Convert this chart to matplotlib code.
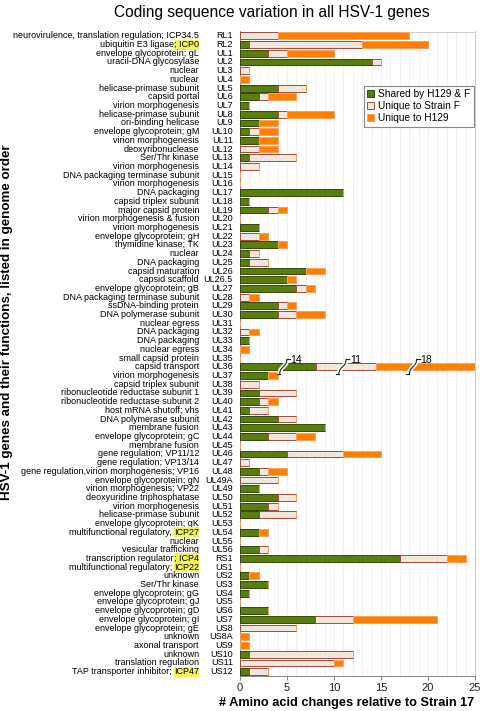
import matplotlib
matplotlib.use("Agg")
import matplotlib.pyplot as plt
import matplotlib.transforms as mtransforms
from matplotlib.patches import Patch
import numpy as np

plt.rcParams['font.family'] = ['Liberation Sans', 'DejaVu Sans']

genes = ['RL1', 'RL2', 'UL1', 'UL2', 'UL3', 'UL4', 'UL5', 'UL6', 'UL7', 'UL8',
         'UL9', 'UL10', 'UL11', 'UL12', 'UL13', 'UL14', 'UL15', 'UL16', 'UL17', 'UL18',
         'UL19', 'UL20', 'UL21', 'UL22', 'UL23', 'UL24', 'UL25', 'UL26', 'UL26.5', 'UL27',
         'UL28', 'UL29', 'UL30', 'UL31', 'UL32', 'UL33', 'UL34', 'UL35', 'UL36', 'UL37',
         'UL38', 'UL39', 'UL40', 'UL41', 'UL42', 'UL43', 'UL44', 'UL45', 'UL46', 'UL47',
         'UL48', 'UL49A', 'UL49', 'UL50', 'UL51', 'UL52', 'UL53', 'UL54', 'UL55', 'UL56',
         'RS1', 'US1', 'US2', 'US3', 'US4', 'US5', 'US6', 'US7', 'US8', 'US8A',
         'US9', 'US10', 'US11', 'US12']

functions = ['neurovirulence, translation regulation; ICP34.5', 'ubiquitin E3 ligase; ICP0',
             'envelope glycoprotein; gL', 'uracil-DNA glycosylase', 'nuclear', 'nuclear',
             'helicase-primase subunit', 'capsid portal', 'virion morphogenesis',
             'helicase-primase subunit', 'ori-binding helicase', 'envelope glycoprotein; gM',
             'virion morphogenesis', 'deoxyribonuclease', 'Ser/Thr kinase', 'virion morphogenesis',
             'DNA packaging terminase subunit', 'virion morphogenesis', 'DNA packaging',
             'capsid triplex subunit', 'major capsid protein', 'virion morphogenesis & fusion',
             'virion morphogenesis', 'envelope glycoprotein; gH', 'thymidine kinase; TK',
             'nuclear', 'DNA packaging', 'capsid maturation', 'capsid scaffold',
             'envelope glycoprotein; gB', 'DNA packaging terminase subunit', 'ssDNA-binding protein',
             'DNA polymerase subunit', 'nuclear egress', 'DNA packaging', 'DNA packaging',
             'nuclear egress', 'small capsid protein', 'capsid transport', 'virion morphogenesis',
             'capsid triplex subunit', 'ribonucleotide reductase subunit 1',
             'ribonucleotide reductase subunit 2', 'host mRNA shutoff; vhs', 'DNA polymerase subunit',
             'membrane fusion', 'envelope glycoprotein; gC', 'membrane fusion',
             'gene regulation; VP11/12', 'gene regulation; VP13/14',
             'gene regulation,virion morphogenesis; VP16', 'envelope glycoprotein; gN',
             'virion morphogenesis; VP22', 'deoxyuridine triphosphatase', 'virion morphogenesis',
             'helicase-primase subunit', 'envelope glycoprotein; gK', 'multifunctional regulatory, ICP27',
             'nuclear', 'vesicular trafficking', 'transcription regulator; ICP4',
             'multifunctional regulatory; ICP22', 'unknown', 'Ser/Thr kinase',
             'envelope glycoprotein; gG', 'envelope glycoprotein; gJ', 'envelope glycoprotein; gD',
             'envelope glycoprotein; gI', 'envelope glycoprotein; gE', 'unknown', 'axonal transport',
             'unknown', 'translation regulation', 'TAP transporter inhibitor; ICP47']

shared = [0, 1, 3, 14, 0, 0, 4, 2, 1, 4,
          2, 1, 2, 0, 1, 0, 0, 0, 11, 1,
          3, 0, 2, 0, 4, 1, 1, 7, 5, 6,
          0, 4, 4, 0, 0, 1, 0, 0, 14, 3,
          0, 2, 2, 1, 4, 9, 3, 0, 5, 0,
          2, 0, 2, 4, 3, 2, 0, 2, 0, 2,
          17, 0, 1, 3, 1, 0, 3, 8, 0, 0,
          0, 1, 0, 1]
strain_f = [4, 12, 2, 1, 1, 0, 3, 1, 0, 1,
            0, 1, 0, 2, 5, 2, 0, 0, 0, 0,
            1, 0, 0, 2, 0, 1, 2, 0, 0, 1,
            1, 1, 2, 0, 1, 0, 0, 0, 11, 0,
            2, 4, 1, 2, 2, 0, 3, 0, 6, 1,
            1, 4, 0, 2, 1, 4, 0, 0, 0, 1,
            5, 0, 0, 0, 0, 0, 0, 4, 6, 0,
            0, 11, 10, 2]
h129 = [14, 7, 5, 0, 0, 1, 0, 3, 0, 5,
        2, 2, 2, 2, 0, 0, 0, 0, 0, 0,
        1, 0, 0, 1, 1, 0, 0, 2, 1, 1,
        1, 1, 3, 0, 1, 0, 1, 0, 18, 1,
        0, 0, 1, 0, 0, 0, 2, 0, 4, 0,
        2, 0, 0, 0, 0, 0, 0, 1, 0, 0,
        2, 0, 1, 0, 0, 0, 0, 9, 0, 1,
        1, 0, 1, 0]

# UL36 is drawn shortened with axis breaks
ul36_shown = [8.1, 6.4, 10.5]
ul36_breaks = [4.6, 10.9, 18.4]

highlight = {'RL2': '; ICP0', 'UL54': 'ICP27', 'RS1': '; ICP4',
             'US1': 'ICP22', 'US12': 'ICP47'}

c_shared, e_shared = '#5a7d10', '#34470a'
c_f, e_f = '#efe6dc', '#a04a3c'
c_h, e_h = '#ff8000', '#f8a060'

W, H = 480, 711
fig = plt.figure(figsize=(W / 100, H / 100), dpi=100)
ax = fig.add_axes([240 / W, 1 - 676 / H, 235 / W, (676 - 31.5) / H])

n = len(genes)
y = np.arange(n)
s = np.array(shared, float)
f = np.array(strain_f, float)
h = np.array(h129, float)
iu = genes.index('UL36')
s[iu], f[iu], h[iu] = ul36_shown

bh = 0.78
ax.barh(y, s, height=bh, color=c_shared, edgecolor=e_shared, linewidth=0.7, zorder=3)
ax.barh(y, f, left=s, height=bh, color=c_f, edgecolor=e_f, linewidth=0.7, zorder=3)
ax.barh(y, h, left=s + f, height=bh, color=c_h, edgecolor=e_h, linewidth=0.7, zorder=3)

# axis-break marks on UL36
true_vals = [shared[iu], strain_f[iu], h129[iu]]
t = np.linspace(-1, 1, 40)
for bx, val in zip(ul36_breaks, true_vals):
    xs = bx + 0.35 * np.tanh(2.2 * t) + 0.05 * t
    ys = iu - 0.85 * t
    ax.plot(xs, ys, color='white', lw=3.2, zorder=4, solid_capstyle='butt')
    ax.plot(xs, ys, color='#222222', lw=0.8, zorder=5)
    ax.plot([xs[-1], xs[-1] + 0.35], [ys[-1], ys[-1]], color='#222222', lw=0.8, zorder=5)
    ax.plot([xs[0] - 0.3, xs[0]], [ys[0], ys[0]], color='#222222', lw=0.8, zorder=5)
    ax.text(xs[-1] + 0.4, ys[-1] + 0.05, str(val), fontsize=7.5, ha='left', va='center', zorder=6)

ax.set_xlim(0, 25)
ax.set_ylim(n - 0.5, -0.5)
ax.set_xticks(np.arange(0, 26, 5))
ax.set_xticks(np.arange(0, 26, 1), minor=True)
ax.tick_params(axis='x', which='major', labelsize=8, length=3, color='#888888', labelcolor='#222222', pad=2)
ax.tick_params(axis='x', which='minor', length=0)
ax.set_yticks([])
ax.grid(axis='x', which='both', color='#eeeeee', lw=0.6, zorder=0)
for sp in ax.spines.values():
    sp.set_color('#cccccc')
    sp.set_linewidth(0.7)
ax.spines['left'].set_color('#888888')
ax.spines['bottom'].set_color('#888888')

# row labels
trans = mtransforms.blended_transform_factory(fig.transFigure, ax.transData)
fs = 6.45
fig.canvas.draw()
renderer = fig.canvas.get_renderer()
for i, (g, fn) in enumerate(zip(genes, functions)):
    ax.text(233 / W, i, g, transform=trans, ha='right', va='center', fontsize=fs)
    if g in highlight:
        hl = highlight[g]
        pre = fn[:-len(hl)].rstrip()
        tx = ax.text(199 / W, i, hl, transform=trans, ha='right', va='center', fontsize=fs,
                     bbox=dict(boxstyle='square,pad=0.05', fc='#f2f55a', ec='none'))
        bb = tx.get_window_extent(renderer)
        gap = 2.2 if fn[:-len(hl)].endswith(' ') else 0.0
        ax.text((bb.x0 - gap) / W, i, pre, transform=trans, ha='right', va='center', fontsize=fs)
    else:
        ax.text(199 / W, i, fn, transform=trans, ha='right', va='center', fontsize=fs)

handles = [Patch(fc=c_shared, ec=e_shared, lw=0.7),
           Patch(fc=c_f, ec=e_f, lw=0.7),
           Patch(fc=c_h, ec=e_h, lw=0.7)]
leg = ax.legend(handles, ['Shared by H129 & F', 'Unique to Strain F', 'Unique to H129'],
                loc='upper right', bbox_to_anchor=(0.997, 0.916), fontsize=7.3,
                fancybox=False, framealpha=1, edgecolor='#888888',
                handlelength=0.7, handleheight=0.7, handletextpad=0.4,
                borderpad=0.35, labelspacing=0.2, borderaxespad=0)
leg.get_frame().set_linewidth(0.8)

fig.text(272 / W, 1 - 13 / H, 'Coding sequence variation in all HSV-1 genes',
         ha='center', va='center', fontsize=11.2)
fig.text(347 / W, 1 - 703 / H, '# Amino acid changes relative to Strain 17',
         ha='center', va='center', fontsize=9.2, fontweight='bold')
fig.text(7 / W, 1 - 322 / H, 'HSV-1 genes and their functions, listed in genome order',
         ha='center', va='center', rotation=90, fontsize=9.6, fontweight='bold')

fig.savefig('out.png', dpi=100)
